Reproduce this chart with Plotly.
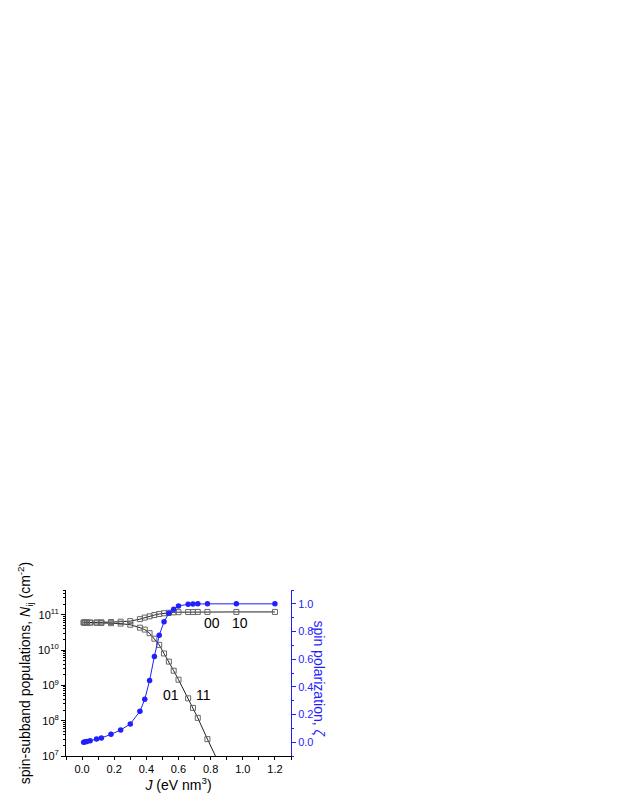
import plotly.graph_objects as go

# --- data ---
J_pol = [0.01, 0.02, 0.03, 0.05, 0.09, 0.12, 0.18, 0.24, 0.30, 0.36, 0.39, 0.42,
         0.45, 0.48, 0.51, 0.54, 0.57, 0.60, 0.66, 0.69, 0.72, 0.78, 0.96, 1.2]
zeta = [0.0, 0.003, 0.005, 0.011, 0.023, 0.03, 0.057, 0.088, 0.132, 0.223, 0.31, 0.445,
        0.62, 0.773, 0.87, 0.932, 0.96, 0.985, 0.997, 0.999, 1.0, 1.0, 1.0, 1.0]

J_up = J_pol
N_up = [6.0e10, 6.0e10, 6.0e10, 6.0e10, 6.05e10, 6.1e10, 6.2e10, 6.35e10, 6.6e10, 7.5e10,
        8.3e10, 9.0e10, 9.8e10, 1.05e11, 1.1e11, 1.14e11, 1.17e11, 1.18e11, 1.19e11,
        1.19e11, 1.2e11, 1.2e11, 1.2e11, 1.2e11]

J_low = [0.01, 0.02, 0.03, 0.05, 0.09, 0.12, 0.18, 0.24, 0.30, 0.36, 0.39, 0.42,
         0.45, 0.48, 0.51, 0.54, 0.57, 0.60, 0.66, 0.69, 0.72, 0.78, 0.84]
N_low = [6.0e10, 6.0e10, 6.0e10, 5.95e10, 5.9e10, 5.85e10, 5.75e10, 5.6e10, 5.2e10, 4.3e10,
         3.8e10, 3.0e10, 2.1e10, 1.4e10, 8.0e9, 4.7e9, 2.6e9, 1.45e9, 4.3e8, 2.3e8,
         1.2e8, 3.0e7, 8.0e6]

log_ticks = [1e7, 1e8, 1e9, 1e10, 1e11]
log_ticktext = ["10<sup>7</sup>", "10<sup>8</sup>", "10<sup>9</sup>", "10<sup>10</sup>", "10<sup>11</sup>"]
log_minor = [m * 10 ** k for k in range(7, 12) for m in range(2, 10)]

labels = [("00", 0.81, 0.86), ("10", 0.98, 0.86), ("01", 0.555, 0.34), ("11", 0.757, 0.34)]

BLUE = "#1f1fff"
FONT = "Liberation Sans, Arial, sans-serif"

# page body has an 8px margin, so figure coords = screen coords - 8
OFF = 8
L, R, T, B = 66 - OFF, 291 - OFF, 590 - OFF, 756 - OFF
W, H = 623, 806

fig = go.Figure()

sq = dict(symbol="square-open", size=5, color="#666666", line=dict(width=1))
fig.add_trace(go.Scatter(x=J_up, y=N_up, mode="lines+markers", marker=sq,
                         line=dict(color="#222222", width=1), xaxis="x", yaxis="y",
                         showlegend=False))
fig.add_trace(go.Scatter(x=J_low, y=N_low, mode="lines+markers", marker=sq,
                         line=dict(color="#222222", width=1), xaxis="x", yaxis="y",
                         showlegend=False))
fig.add_trace(go.Scatter(x=J_pol, y=zeta, mode="lines+markers",
                         marker=dict(symbol="circle", size=5.5, color=BLUE),
                         line=dict(color=BLUE, width=1), xaxis="x", yaxis="y2",
                         showlegend=False))

for txt, xv, yv in labels:
    fig.add_annotation(x=xv, y=yv, xref="x", yref="y2", text=txt, showarrow=False,
                       xanchor="center", yanchor="middle",
                       font=dict(size=14, color="black", family=FONT))

fig.add_annotation(x=(319 - OFF - L) / (R - L), y=0.46, xref="paper", yref="y2",
                   text="spin polarization, <i>ζ</i>", xanchor="center", yanchor="middle",
                   showarrow=False, textangle=90, font=dict(size=14, color=BLUE, family=FONT))

fig.update_layout(
    width=W, height=H,
    margin=dict(l=L, r=W - R, t=T, b=H - B, autoexpand=False),
    paper_bgcolor="white", plot_bgcolor="white",
    font=dict(family=FONT, size=11, color="black"),
    xaxis=dict(range=[-0.1, 1.3], tickvals=[0, 0.2, 0.4, 0.6, 0.8, 1.0, 1.2],
               ticktext=["0.0", "0.2", "0.4", "0.6", "0.8", "1.0", "1.2"],
               ticks="outside", ticklen=3, tickcolor="black", showline=True,
               linecolor="black", linewidth=1, showgrid=False, zeroline=False,
               automargin=False,
               minor=dict(ticks="outside", ticklen=3, dtick=0.1, tick0=0, tickcolor="black"),
               title=dict(text="<i>J</i> (eV nm<sup>3</sup>)", font=dict(size=14), standoff=2)),
    xaxis2=dict(range=[-0.1, 1.3], overlaying="x", side="top", dtick=0.2, tick0=0,
                ticks="inside", ticklen=3, tickcolor="black", showticklabels=False,
                showline=True, linecolor="black", linewidth=1, showgrid=False,
                zeroline=False, automargin=False,
                minor=dict(ticks="inside", ticklen=3, dtick=0.1, tick0=0, tickcolor="black")),
    yaxis=dict(type="log", range=[7, 11.7], tickvals=log_ticks, ticktext=log_ticktext,
               ticks="outside", ticklen=4, tickcolor="black", showline=True,
               linecolor="black", linewidth=1, showgrid=False, zeroline=False,
               automargin=False,
               minor=dict(ticks="outside", ticklen=2, tickvals=log_minor, tickcolor="black"),
               title=dict(text="spin-subband populations, <i>N</i><sub>ij</sub> (cm<sup>-2</sup>)",
                          font=dict(size=14), standoff=4)),
    yaxis2=dict(range=[-0.1, 1.1], overlaying="y", side="right",
                tickvals=[0, 0.2, 0.4, 0.6, 0.8, 1.0],
                ticktext=["0.0", "0.2", "0.4", "0.6", "0.8", "1.0"],
                ticks="outside", ticklen=4, tickcolor=BLUE, showline=True,
                linecolor=BLUE, linewidth=1, showgrid=False, zeroline=False,
                automargin=False, tickfont=dict(color=BLUE),
                minor=dict(ticks="outside", ticklen=2, dtick=0.1, tick0=0, tickcolor=BLUE)),
)

fig.write_html("out.html")
